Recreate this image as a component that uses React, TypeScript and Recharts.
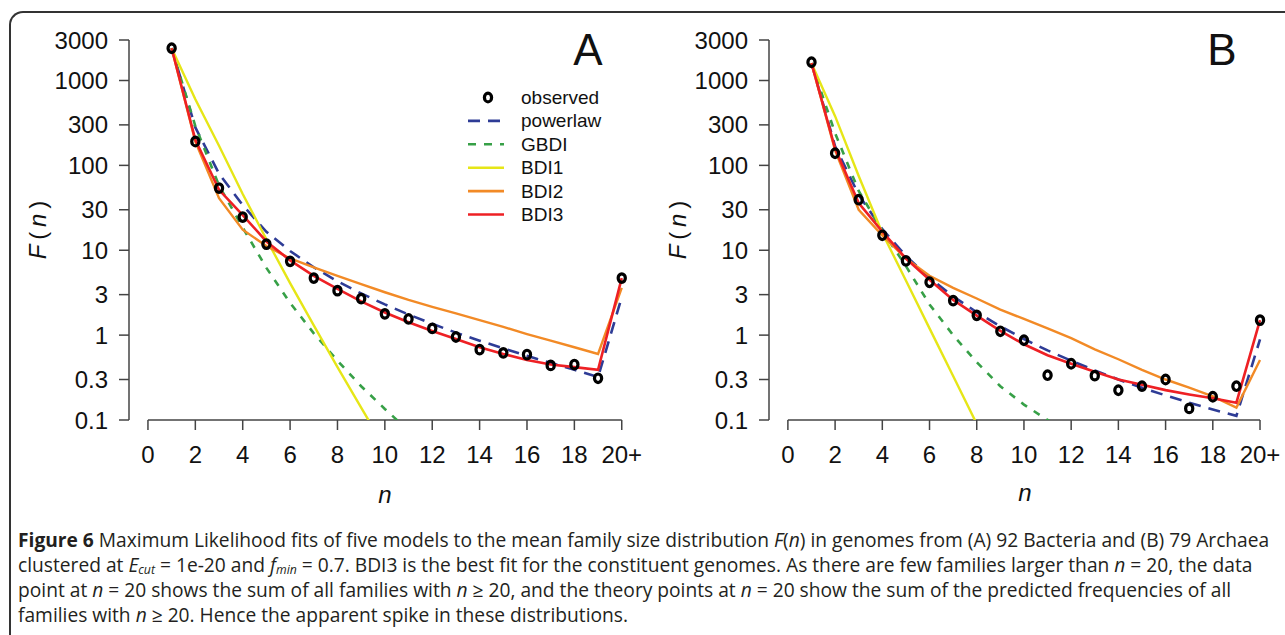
import React from 'react';
import { ComposedChart, Line, XAxis, YAxis, ReferenceLine } from 'recharts';

// family size n (20 = "20+")
const nValues = [1, 2, 3, 4, 5, 6, 7, 8, 9, 10, 11, 12, 13, 14, 15, 16, 17, 18, 19, 20];
const xTicks = [0, 2, 4, 6, 8, 10, 12, 14, 16, 18, 20];
const yTicks = [0.1, 0.3, 1, 3, 10, 30, 100, 300, 1000, 3000];

// (A) 92 Bacteria
const obsA = [2400, 191, 54, 24.6, 11.8, 7.4, 4.7, 3.34, 2.69, 1.78, 1.55, 1.2, 0.95, 0.676, 0.618, 0.59, 0.44, 0.45, 0.31, 4.7];
const powerA = [2400, 280, 80, 34, 16.5, 9.8, 6.3, 4.3, 3.1, 2.3, 1.75, 1.36, 1.07, 0.86, 0.7, 0.57, 0.47, 0.39, 0.32, 2.8];
const gbdiA = [2400, 290, 58, 18.5, 6.2, 2.4, 1.05, 0.5, 0.25, 0.135, 0.075, null, null, null, null, null, null, null, null, null];
const bdi1A = [2400, 600, 170, 46, 13.5, 4.1, 1.3, 0.42, 0.14, 0.047, null, null, null, null, null, null, null, null, null, null];
const bdi2A = [2400, 190, 41, 17.5, 11.2, 8.0, 6.3, 5.0, 4.0, 3.2, 2.6, 2.15, 1.8, 1.5, 1.25, 1.03, 0.86, 0.72, 0.6, 3.6];
const bdi3A = [2400, 200, 51.5, 26, 12.7, 7.6, 5.0, 3.5, 2.5, 1.85, 1.42, 1.12, 0.9, 0.72, 0.6, 0.51, 0.45, 0.42, 0.39, 4.7];

// (B) 79 Archaea
const obsB = [1640, 139, 39.4, 15, 7.5, 4.2, 2.55, 1.71, 1.11, 0.87, 0.337, 0.46, 0.333, 0.224, 0.25, 0.3, 0.137, 0.188, 0.25, 1.5];
const powerB = [1600, 168, 45, 17.7, 8.56, 4.73, 2.87, 1.86, 1.27, 0.9, 0.66, 0.5, 0.384, 0.3, 0.24, 0.195, 0.16, 0.133, 0.112, 0.89];
const gbdiB = [1600, 240, 50, 17, 6.5, 2.3, 1.0, 0.48, 0.25, 0.152, 0.1, 0.07, null, null, null, null, null, null, null, null];
const bdi1B = [1600, 380, 75, 16, 4.4, 1.2, 0.33, 0.09, null, null, null, null, null, null, null, null, null, null, null, null];
const bdi2B = [1600, 150, 30, 15, 8.0, 5.0, 3.6, 2.7, 2.0, 1.55, 1.2, 0.92, 0.68, 0.52, 0.39, 0.3, 0.24, 0.19, 0.14, 0.51];
const bdi3B = [1600, 158, 36, 16.6, 8.0, 4.5, 2.6, 1.7, 1.12, 0.78, 0.58, 0.46, 0.37, 0.3, 0.26, 0.225, 0.2, 0.18, 0.16, 1.5];

const C_POWER = '#2E3C96';
const C_GBDI = '#37A047';
const C_BDI1 = '#E6E617';
const C_BDI2 = '#F28A26';
const C_BDI3 = '#EE2024';

const AXIS = '#444';
const FONT = '"Liberation Sans", Arial, Helvetica, sans-serif';

type Row = { n: number; obs: number; power: number | null; gbdi: number | null; bdi1: number | null; bdi2: number | null; bdi3: number | null };

function buildRows(obs: number[], power: (number | null)[], gbdi: (number | null)[], bdi1: (number | null)[], bdi2: (number | null)[], bdi3: (number | null)[]): Row[] {
  return nValues.map((n, i) => ({ n, obs: obs[i], power: power[i], gbdi: gbdi[i], bdi1: bdi1[i], bdi2: bdi2[i], bdi3: bdi3[i] }));
}

const rowsA = buildRows(obsA, powerA, gbdiA, bdi1A, bdi2A, bdi3A);
const rowsB = buildRows(obsB, powerB, gbdiB, bdi1B, bdi2B, bdi3B);

// bold "o" plotting symbol
const ObsDot = (props: any) => {
  const { cx, cy, index } = props;
  if (cx == null || cy == null) return <g key={index} />;
  return <ellipse key={index} cx={cx} cy={cy} rx={3.6} ry={4.3} fill="none" stroke="#000" strokeWidth={3.2} />;
};

function Panel({ rows, width, right }: { rows: Row[]; width: number; right: number }) {
  return (
    <ComposedChart width={width} height={520} data={rows} margin={{ top: 40, right, left: 29, bottom: 40 }}>
      <XAxis
        type="number" dataKey="n" domain={[-0.8, 20.8]} allowDataOverflow ticks={xTicks} interval={0}
        tickFormatter={v => (v === 20 ? '20+' : String(v))}
        axisLine={false} tickLine={{ stroke: AXIS, strokeWidth: 1.5 }} tickSize={10} tickMargin={16}
        tick={{ fontSize: 24, fill: '#111', fontFamily: FONT }} height={60}
      />
      <YAxis
        type="number" scale="log" domain={[0.1, 3000]} allowDataOverflow ticks={yTicks} interval={0}
        width={100} tickSize={10} tickMargin={11}
        axisLine={{ stroke: AXIS, strokeWidth: 1.5 }} tickLine={{ stroke: AXIS, strokeWidth: 1.5 }}
        tick={{ fontSize: 24, fill: '#111', fontFamily: FONT }}
      />
      <ReferenceLine segment={[{ x: 0, y: 0.1 }, { x: 20, y: 0.1 }]} stroke={AXIS} strokeWidth={1.5} ifOverflow="visible" />
      <Line dataKey="power" stroke={C_POWER} strokeWidth={2.6} strokeDasharray="12 8" dot={false} activeDot={false} isAnimationActive={false} type="linear" />
      <Line dataKey="gbdi" stroke={C_GBDI} strokeWidth={2.6} strokeDasharray="7 8" dot={false} activeDot={false} isAnimationActive={false} type="linear" />
      <Line dataKey="bdi1" stroke={C_BDI1} strokeWidth={2.4} dot={false} activeDot={false} isAnimationActive={false} type="linear" />
      <Line dataKey="bdi2" stroke={C_BDI2} strokeWidth={2.4} dot={false} activeDot={false} isAnimationActive={false} type="linear" />
      <Line dataKey="bdi3" stroke={C_BDI3} strokeWidth={2.6} dot={false} activeDot={false} isAnimationActive={false} type="linear" />
      <Line dataKey="obs" stroke="none" dot={ObsDot} activeDot={false} isAnimationActive={false} type="linear" />
    </ComposedChart>
  );
}

const legendItems = [
  { label: 'powerlaw', color: C_POWER, dash: '12 8' },
  { label: 'GBDI', color: C_GBDI, dash: '8 8' },
  { label: 'BDI1', color: C_BDI1, dash: undefined },
  { label: 'BDI2', color: C_BDI2, dash: undefined },
  { label: 'BDI3', color: C_BDI3, dash: undefined },
];

function LegendA() {
  const rowH = 23.4;
  const y0 = 97.5;
  return (
    <svg width={660} height={260} style={{ position: 'absolute', left: 0, top: 0 }}>
      <ellipse cx={488} cy={y0} rx={3.6} ry={4.3} fill="none" stroke="#000" strokeWidth={3.2} />
      <text x={521} y={y0} dominantBaseline="central" fontSize={19} fontFamily={FONT} fill="#111">observed</text>
      {legendItems.map((it, i) => {
        const y = y0 + rowH * (i + 1);
        return (
          <g key={it.label}>
            <line x1={468} x2={504} y1={y} y2={y} stroke={it.color} strokeWidth={2.6} strokeDasharray={it.dash} />
            <text x={521} y={y} dominantBaseline="central" fontSize={19} fontFamily={FONT} fill="#111">{it.label}</text>
          </g>
        );
      })}
    </svg>
  );
}

const absText = (x: number, y: number): React.CSSProperties => ({
  position: 'absolute', left: x, top: y, transform: 'translate(-50%, -50%)', whiteSpace: 'nowrap',
  fontFamily: FONT, color: '#111', lineHeight: 1,
});

function YTitle({ x, y }: { x: number; y: number }) {
  return (
    <div style={{ ...absText(x, y), fontSize: 24, transform: 'translate(-50%, -50%) rotate(-90deg)' }}>
      <i>F</i>&thinsp;(&thinsp;<i>n</i>&thinsp;)
    </div>
  );
}

const capLine: React.CSSProperties = { height: 25, lineHeight: '25px', whiteSpace: 'nowrap' };
const sub: React.CSSProperties = { fontSize: '64%', lineHeight: 0, verticalAlign: '-0.18em' };

export default function App() {
  return (
    <div style={{ position: 'absolute', left: 0, top: 0, width: 1285, height: 635, overflow: 'hidden', background: '#fff' }}>
      <div style={{ position: 'absolute', left: 9, top: 11, width: 1400, height: 800, borderTop: '2px solid #333', borderLeft: '2px solid #333', borderTopLeftRadius: 14 }} />
      <div style={{ position: 'absolute', left: 0, top: 0 }}>
        <Panel rows={rowsA} width={660} right={19.3} />
      </div>
      <div style={{ position: 'absolute', left: 640, top: 0 }}>
        <Panel rows={rowsB} width={645} right={6.1} />
      </div>
      <LegendA />
      <div style={{ ...absText(588, 50), fontSize: 44 }}>A</div>
      <div style={{ ...absText(1222, 50), fontSize: 44 }}>B</div>
      <YTitle x={38} y={230} />
      <YTitle x={678} y={230} />
      <div style={{ ...absText(385, 495), fontSize: 24 }}><i>n</i></div>
      <div style={{ ...absText(1025, 493), fontSize: 24 }}><i>n</i></div>
      <div style={{ position: 'absolute', left: 18, top: 527, fontFamily: '"Open Sans", "Noto Sans", sans-serif', fontSize: 19.2, color: '#231f20' }}>
        <div style={capLine}>
          <b>Figure 6</b> Maximum Likelihood fits of five models to the mean family size distribution <i>F</i>(<i>n</i>) in genomes from (A) 92 Bacteria and (B) 79 Archaea
        </div>
        <div style={capLine}>
          clustered at <i>E</i><i style={sub}>cut</i> = 1e-20 and <i>f</i><i style={sub}>min</i> = 0.7. BDI3 is the best fit for the constituent genomes. As there are few families larger than <i>n</i> = 20, the data
        </div>
        <div style={capLine}>
          point at <i>n</i> = 20 shows the sum of all families with <i>n</i> ≥ 20, and the theory points at <i>n</i> = 20 show the sum of the predicted frequencies of all
        </div>
        <div style={capLine}>
          families with <i>n</i> ≥ 20. Hence the apparent spike in these distributions.
        </div>
      </div>
    </div>
  );
}
